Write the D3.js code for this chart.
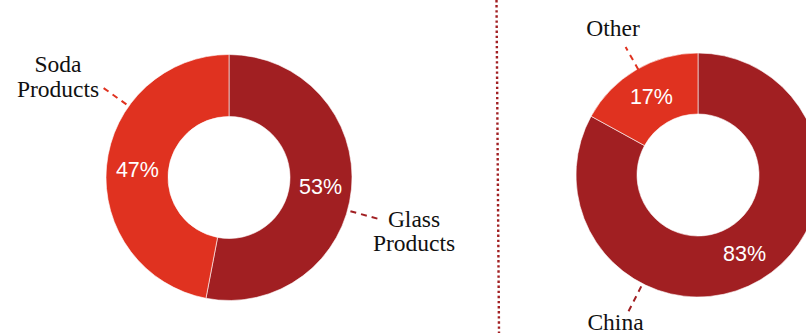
<!DOCTYPE html>
<html>
<head>
<meta charset="utf-8">
<script src="https://cdn.jsdelivr.net/npm/d3@7/dist/d3.min.js"></script>
<style>
  html, body { margin: 0; padding: 0; background: #fff; }
  svg { display: block; }
</style>
</head>
<body>
<svg id="chart" width="806" height="333"></svg>
<script>
// Product mix (left) and sourcing by country (right), in percent
const productCategories = ["Glass Products", "Soda Products"];
const productShares = [53, 47];
const sourceCategories = ["China", "Other"];
const sourceShares = [83, 17];

const darkRed = "#A11F22";
const brightRed = "#E03220";

const svg = d3.select("#chart");
const W = 806, H = 333;

// Dotted divider between the two donuts
svg.append("line")
  .attr("x1", 496.5).attr("y1", 0)
  .attr("x2", 499).attr("y2", H)
  .attr("stroke", darkRed)
  .attr("stroke-width", 2.4)
  .attr("stroke-dasharray", "2.4 2.7");

function donut(cfg) {
  const data = cfg.categories.map((c, i) => ({ name: c, value: cfg.values[i], color: cfg.colors[i] }));
  const pie = d3.pie().sort(null).value(d => d.value).startAngle(0).endAngle(2 * Math.PI);
  const arcs = pie(data);
  const arc = d3.arc().innerRadius(cfg.inner).outerRadius(cfg.outer);
  const g = svg.append("g").attr("transform", `translate(${cfg.cx},${cfg.cy})`);

  g.selectAll("path.slice").data(arcs).enter().append("path")
    .attr("class", "slice")
    .attr("d", arc)
    .attr("fill", d => d.data.color)
    .attr("stroke", "#fff")
    .attr("stroke-width", 0.6);

  // Percentage labels at slice centroids
  g.selectAll("text.pct").data(arcs).enter().append("text")
    .attr("class", "pct")
    .attr("x", d => arc.centroid(d)[0])
    .attr("y", d => arc.centroid(d)[1])
    .attr("dy", "0.36em")
    .attr("text-anchor", "middle")
    .attr("fill", "#fff")
    .style("font-family", "'Liberation Sans', Arial, sans-serif")
    .style("font-size", "21.5px")
    .text(d => d.data.value + "%");

  // Dashed leader lines and category names
  arcs.forEach((d, i) => {
    const L = cfg.labels[i];
    const a = L.angle * Math.PI / 180;
    const r0 = cfg.outer + L.gap, r1 = cfg.outer + L.gap + L.len;
    g.append("line")
      .attr("x1", r0 * Math.sin(a)).attr("y1", -r0 * Math.cos(a))
      .attr("x2", r1 * Math.sin(a)).attr("y2", -r1 * Math.cos(a))
      .attr("stroke", d.data.color)
      .attr("stroke-width", 2)
      .attr("stroke-dasharray", "6 5");
    const t = g.append("text")
      .attr("text-anchor", "middle")
      .attr("fill", "#111")
      .style("font-family", "'Liberation Serif', 'DejaVu Serif', serif")
      .style("font-size", "23.5px");
    L.lines.forEach((s, k) => {
      t.append("tspan")
        .attr("x", L.tx)
        .attr("y", L.ty + k * 24.8)
        .text(s);
    });
  });
}

donut({
  cx: 229, cy: 177.5, outer: 123, inner: 61,
  categories: productCategories, values: productShares,
  colors: [darkRed, brightRed],
  labels: [
    { angle: 105.5, gap: 3, len: 29, lines: ["Glass", "Products"], tx: 185, ty: 49 },
    { angle: 305.5, gap: 3, len: 29, lines: ["Soda", "Products"], tx: -171, ty: -105.5 }
  ]
});

donut({
  cx: 698, cy: 175, outer: 122, inner: 61,
  categories: sourceCategories, values: sourceShares,
  colors: [darkRed, brightRed],
  labels: [
    { angle: 207, gap: 3, len: 28, lines: ["China"], tx: -82.5, ty: 155 },
    { angle: 330.5, gap: -1, len: 26, lines: ["Other"], tx: -85, ty: -139.3 }
  ]
});
</script>
</body>
</html>
